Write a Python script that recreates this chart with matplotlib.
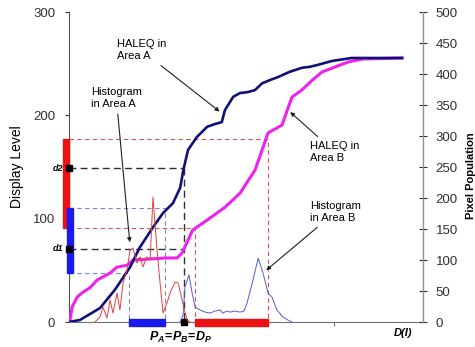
import matplotlib
matplotlib.use("Agg")
import matplotlib.pyplot as plt
from matplotlib.patches import Rectangle

plt.rcParams['font.family'] = ['Liberation Sans', 'DejaVu Sans']
plt.rcParams['mathtext.fontset'] = 'custom'
plt.rcParams['mathtext.it'] = 'Liberation Sans:italic:bold'
plt.rcParams['mathtext.rm'] = 'Liberation Sans:bold'

# HALEQ curves (display level vs D(I))
haleq_a_x = [0, 10.6, 29.8, 44, 58.7, 68, 81, 90.5, 100, 107, 110, 114.5, 123, 133, 140.5,
             147, 150, 158, 164.6, 172, 179, 185.8, 193, 201, 212, 224, 232, 240, 253,
             262, 272, 320.5]
haleq_a_y = [0, 2, 13.5, 31, 53, 72, 92, 105.5, 115, 130, 147, 166.5, 179, 189, 191.6,
             193.5, 205, 218, 221.6, 222.5, 224.5, 231, 234, 237, 242, 246, 247, 249, 252.6,
             254, 255.5, 255.5]
haleq_b_x = [1, 3, 7.7, 13.5, 20, 27, 39.5, 46, 56, 61.6, 94, 104, 108.8, 119, 133, 150,
             164.6, 179, 191.5, 205, 210, 214.6, 224, 234, 243.5, 256, 268.5, 282, 320.5]
haleq_b_y = [2, 14.5, 24, 29, 33, 40.6, 47.4, 53, 55, 60, 62, 62, 66.8, 89, 98.7, 111,
             124.8, 147, 183, 190.6, 205, 217.7, 224.5, 234, 242, 246.8, 251.6, 254.5, 255.5]

# histograms (pixel population vs D(I))
hist_a_x = [25, 29.8, 32.7, 36.6, 39.5, 42.3, 46.2, 49, 52, 55.8, 58.7, 61.6, 65.4, 68.3,
            71.2, 75, 78, 80.8, 84.7, 87.6, 90.5, 94.3, 97.2, 102, 105, 108.8, 113.6, 116.5]
hist_a_y = [0, 8, 24, 6.5, 35.5, 14.5, 46.8, 19.4, 63, 84, 116, 119, 95, 105, 89, 105, 100,
            201.6, 116, 63, 14.5, 30.6, 46.8, 64.5, 63, 35.5, 3, 0]
hist_b_x = [106.8, 109.7, 111.6, 115.5, 118.4, 121.3, 126, 131, 135.7, 140.5, 145.3, 148,
            152, 155, 159.8, 164.6, 168.4, 171.3, 177, 182, 186.7, 191.5, 195.4, 200, 206,
            210.8, 214.6]
hist_b_y = [0, 11, 56.5, 76, 47, 24, 19.4, 16, 14.5, 17.7, 19.4, 14.5, 17.7, 16, 17.7, 16,
            17.7, 30.6, 67.7, 103, 79, 46.8, 40, 19.4, 8, 3, 0]

# ranges
area_a_levels = [47.4, 110]
area_a_range = [57.7, 92.4]
area_b_levels = [91, 177]
area_b_range = [121.3, 191.5]
d1, d2 = 70.7, 149
dp = 110.7

fig = plt.figure(figsize=(4.75, 3.47), dpi=100)
ax = fig.add_axes([0.1453, 0.072, 0.7452, 0.8934])
ax2 = ax.twinx()

ax.set_xlim(0, 340.6)
ax.set_ylim(0, 300)
ax2.set_ylim(0, 500)

# dashed guide lines
red_d = '#e05050'
blue_d = '#8080d0'
for lev, xr in zip(area_b_levels, area_b_range):
    ax.plot([0, xr, xr], [lev, lev, 0], ls=(0, (4, 3)), color=red_d, lw=0.8)
for lev, xr in zip(area_a_levels, area_a_range):
    ax.plot([0, xr, xr], [lev, lev, 0], ls=(0, (4, 3)), color=blue_d, lw=0.8)
ax.plot([0, dp], [d2, d2], ls=(0, (5, 3)), color='#303030', lw=1.0)
ax.plot([0, dp], [d1, d1], ls=(0, (5, 3)), color='#303030', lw=1.0)
ax.plot([dp, dp], [d2, 0], ls=(0, (5, 3)), color='#303030', lw=1.0)

ax2.plot(hist_a_x, hist_a_y, color='#e04040', lw=0.7)
ax2.plot(hist_b_x, hist_b_y, color='#5a5ad0', lw=0.7)
ax.plot(haleq_b_x, haleq_b_y, color='#ee22ee', lw=2.2, zorder=5)
ax.plot(haleq_a_x, haleq_a_y, color='#10107a', lw=1.9, zorder=6)

# range bars on the axes
ax.add_patch(Rectangle((-5.8, area_b_levels[0]), 5.8, area_b_levels[1] - area_b_levels[0],
                       color='#ee1111', clip_on=False, zorder=8))
ax.add_patch(Rectangle((-1.9, area_a_levels[0]), 5.7, area_a_levels[1] - area_a_levels[0],
                       color='#1a1aee', clip_on=False, zorder=9))
ax.add_patch(Rectangle((area_a_range[0], -3.5), area_a_range[1] - area_a_range[0], 6.8,
                       color='#1a1aee', clip_on=False, zorder=8))
ax.add_patch(Rectangle((area_b_range[0], -3.5), area_b_range[1] - area_b_range[0], 6.8,
                       color='#ee1111', clip_on=False, zorder=8))
ax.plot([0, 0, dp], [d2, d1, 0], 's', color='black', ms=4, clip_on=False, zorder=10)

ax.text(-6, d2, 'd2', ha='right', va='center', fontsize=6.5, style='italic', fontweight='bold')
ax.text(-6, d1, 'd1', ha='right', va='center', fontsize=6.5, style='italic', fontweight='bold')

arrow = dict(arrowstyle='-|>', color='#202020', lw=0.8, mutation_scale=6)
ax.annotate('HALEQ in\nArea A', xy=(147, 202), xytext=(46, 263), ha='left', va='center',
            fontsize=8, arrowprops=arrow, zorder=11)
ax.annotate('Histogram\nin Area A', xy=(58.7, 74.5), xytext=(21, 217), ha='left', va='center',
            fontsize=8, arrowprops=arrow, zorder=11)
ax.annotate('HALEQ in\nArea B', xy=(210.8, 205), xytext=(232, 164.6), ha='left', va='center',
            fontsize=8, arrowprops=arrow, zorder=11)
ax.annotate('Histogram\nin Area B', xy=(187.7, 48.4), xytext=(232, 106.5), ha='left', va='center',
            fontsize=8, arrowprops=arrow, zorder=11)

# axes styling
for a in (ax, ax2):
    a.spines['top'].set_visible(False)
ax.spines['left'].set_color('#505050')
ax.spines['bottom'].set_color('#707070')
ax2.spines['right'].set_color('#909090')
ax2.spines['left'].set_visible(False)
ax2.spines['bottom'].set_visible(False)

ax.set_yticks([0, 100, 200, 300])
ax.tick_params(axis='y', direction='out', length=3, pad=7, labelsize=9.5, colors='#303030')
ax.set_xticks([255])
ax.set_xticklabels([])
ax.tick_params(axis='x', direction='out', length=3, colors='#707070')
ax2.set_yticks(range(0, 501, 50))
ax2.tick_params(axis='y', direction='inout', length=6, pad=6, labelsize=9.5,
                colors='#303030')
for t in ax2.get_yticklines():
    t.set_color('#909090')

fig.text(17 / 475, 1 - 167 / 347, 'Display Level', rotation=90, ha='center', va='center',
         fontsize=10)
fig.text(471 / 475, 1 - 176 / 347, 'Pixel Population', rotation=90, ha='center', va='center',
         fontsize=8, fontweight='bold')
fig.text(180 / 475, 1 - 337 / 347, r'$P_A\!=\!P_B\!=\!D_P$', ha='center', va='center',
         fontsize=9)
fig.text(403 / 475, 1 - 333 / 347, 'D(I)', ha='center', va='center', fontsize=8,
         fontweight='bold', style='italic')

fig.savefig('out.png', dpi=100)
